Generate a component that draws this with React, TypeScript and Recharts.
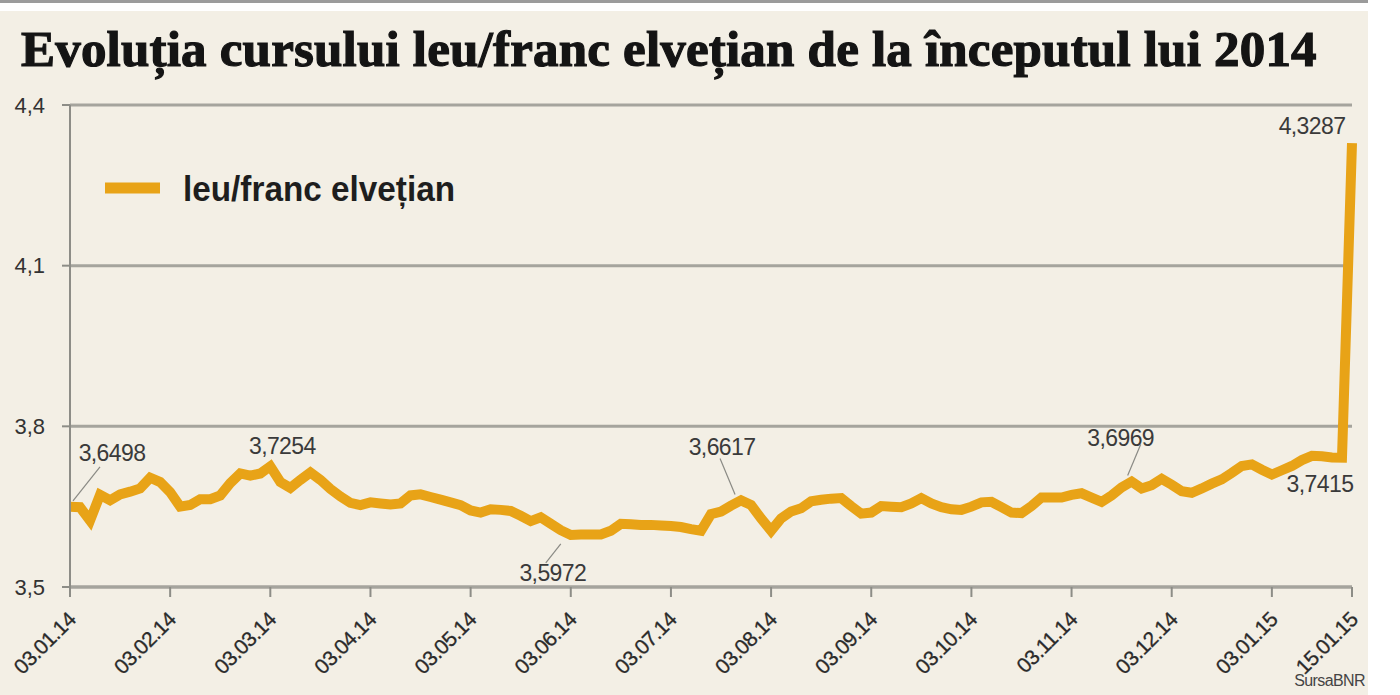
import { CartesianGrid, Line, LineChart, XAxis, YAxis } from "recharts";

const BEIGE = "#f3efe5";
const GOLD = "#e8a317";
const GRID = "#a5a49d";
const SANS = "'Liberation Sans', Arial, sans-serif";

// sample days inside each month (only month starts are shown as ticks)
const DAYS = ["03", "06", "09", "12", "15", "18", "21", "24", "26", "28"];
const MONTHS = ["01", "02", "03", "04", "05", "06", "07", "08", "09", "10", "11", "12"];
const JAN15_DATES = [
  "03.01.15", "05.01.15", "07.01.15", "08.01.15", "09.01.15",
  "12.01.15", "13.01.15", "14.01.15", "15.01.15",
];

// leu / franc elvetian
const JAN14 = [3.6498, 3.649, 3.624, 3.672, 3.662, 3.673, 3.678, 3.684, 3.704, 3.696];
const FEB14 = [3.677, 3.65, 3.653, 3.664, 3.664, 3.671, 3.694, 3.712, 3.708, 3.712];
const MAR14 = [3.7254, 3.696, 3.685, 3.7, 3.714, 3.7, 3.683, 3.669, 3.657, 3.653];
const APR14 = [3.658, 3.656, 3.654, 3.656, 3.671, 3.673, 3.668, 3.663, 3.658, 3.653];
const MAY14 = [3.643, 3.639, 3.645, 3.644, 3.642, 3.633, 3.623, 3.63, 3.618, 3.606];
const JUN14 = [3.5972, 3.598, 3.598, 3.598, 3.605, 3.618, 3.617, 3.616, 3.616, 3.615];
const JUL14 = [3.614, 3.612, 3.608, 3.605, 3.636, 3.641, 3.652, 3.6617, 3.653, 3.628];
const AUG14 = [3.605, 3.628, 3.641, 3.647, 3.66, 3.663, 3.665, 3.666, 3.651, 3.637];
const SEP14 = [3.639, 3.651, 3.65, 3.649, 3.656, 3.666, 3.656, 3.649, 3.645, 3.644];
const OCT14 = [3.65, 3.658, 3.659, 3.649, 3.639, 3.638, 3.651, 3.667, 3.667, 3.667];
const NOV14 = [3.672, 3.675, 3.667, 3.659, 3.671, 3.686, 3.6969, 3.684, 3.69, 3.702];
const DEC14 = [3.691, 3.679, 3.676, 3.684, 3.693, 3.701, 3.713, 3.726, 3.729, 3.719];
const JAN15 = [3.71, 3.718, 3.726, 3.737, 3.745, 3.744, 3.742, 3.7415, 4.3287];

const YEAR_2014 = [JAN14, FEB14, MAR14, APR14, MAY14, JUN14, JUL14, AUG14, SEP14, OCT14, NOV14, DEC14];

const DATES = [
  ...MONTHS.flatMap((m) => DAYS.map((d) => `${d}.${m}.14`)),
  ...JAN15_DATES,
];
const VALUES = [...YEAR_2014.flat(), ...JAN15];

const data = DATES.map((date, i) => ({ date, value: VALUES[i] }));

const X_TICKS = [
  "03.01.14", "03.02.14", "03.03.14", "03.04.14", "03.05.14", "03.06.14", "03.07.14",
  "03.08.14", "03.09.14", "03.10.14", "03.11.14", "03.12.14", "03.01.15", "15.01.15",
];
const Y_TICKS = [3.5, 3.8, 4.1, 4.4];

// annotated points
const NOTE_DATES = ["03.01.14", "03.03.14", "03.06.14", "24.07.14", "21.11.14", "14.01.15", "15.01.15"];

// where each note's text sits relative to its point, and its leader line
const NOTE_POS: Record<string, { tx: number; ty: number; leader?: number[] }> = {
  "03.01.14": { tx: 42, ty: -54, leader: [3, -6, 30, -40] },
  "03.03.14": { tx: 12, ty: -20 },
  "03.06.14": { tx: -18, ty: 38, leader: [-10, 9, -25, 28] },
  "24.07.14": { tx: -19, ty: -53, leader: [-6, -6, -21, -42] },
  "21.11.14": { tx: -11, ty: -44, leader: [-4, -6, 9, -37] },
  "14.01.15": { tx: -22, ty: 26 },
  "15.01.15": { tx: -40, ty: -17 },
};

const fmt = (v: number, digits: number) => v.toFixed(digits).replace(".", ",");

const renderNote = (props: any) => {
  const { x, y, value } = props;
  let index = props.index;
  if (index == null) index = VALUES.indexOf(value);
  const date = DATES[index];
  if (!NOTE_DATES.includes(date)) return null;
  const pos = NOTE_POS[date];
  const l = pos.leader;
  return (
    <g key={`note-${date}`}>
      {l && (
        <line
          x1={x + l[0]}
          y1={y + l[1]}
          x2={x + l[2]}
          y2={y + l[3]}
          stroke="#8a8a84"
          strokeWidth={1.2}
        />
      )}
      <text
        x={x + pos.tx}
        y={y + pos.ty}
        textAnchor="middle"
        dominantBaseline="central"
        fontFamily={SANS}
        fontSize={23}
        letterSpacing={-0.6}
        fill="#3a3a3a"
      >
        {fmt(value, 4)}
      </text>
    </g>
  );
};

const DateTick = ({ x, y, payload }: any) => (
  <g transform={`translate(${x + 7},${y + 24})`}>
    <text
      transform="rotate(-45)"
      textAnchor="end"
      fontFamily={SANS}
      fontSize={21}
      letterSpacing={-0.6}
      fill="#2a2a2a"
      stroke="#2a2a2a"
      strokeWidth={0.3}
    >
      {payload.value}
    </text>
  </g>
);

export default function App() {
  return (
    <div
      style={{
        position: "absolute",
        left: 0,
        top: 0,
        width: 1400,
        height: 695,
        background: "#fff",
        overflow: "hidden",
      }}
    >
      <div style={{ position: "absolute", left: 0, top: 0, width: 1368, height: 3, background: "#9b9b9b" }} />
      <div style={{ position: "absolute", left: 0, top: 11, width: 1368, height: 684, background: BEIGE }} />

      <div
        style={{
          position: "absolute",
          left: 21,
          top: 20,
          fontFamily: "'Liberation Serif', 'Times New Roman', serif",
          fontWeight: "bold",
          fontSize: 51,
          lineHeight: "58px",
          letterSpacing: 0.2,
          whiteSpace: "nowrap",
          color: "#141414",
          WebkitTextStroke: "1.2px #141414",
        }}
      >
        Evoluția cursului leu/franc elvețian de la începutul lui 2014
      </div>

      <svg style={{ position: "absolute", left: 0, top: 150 }} width={500} height={80}>
        <line x1={105} y1={38} x2={160} y2={38} stroke={GOLD} strokeWidth={11} />
        <text
          x={183}
          y={38}
          dominantBaseline="central"
          fontFamily={SANS}
          fontWeight="bold"
          fontSize={35}
          textLength={272}
          lengthAdjust="spacingAndGlyphs"
          fill="#1e1e1e"
        >
          leu/franc elvețian
        </text>
      </svg>

      <div style={{ position: "absolute", left: 0, top: 0 }}>
        <LineChart
          width={1400}
          height={695}
          data={data}
          margin={{ top: 105, right: 48, bottom: 8, left: 8 }}
        >
          <CartesianGrid horizontal vertical={false} stroke={GRID} strokeWidth={3} />
          <XAxis
            dataKey="date"
            ticks={X_TICKS}
            interval={0}
            padding={{ left: 0, right: 0 }}
            height={100}
            tickSize={10}
            tickMargin={0}
            axisLine={{ stroke: GRID, strokeWidth: 3 }}
            tickLine={{ stroke: "#8d8d87", strokeWidth: 2 }}
            tick={<DateTick />}
          />
          <YAxis
            type="number"
            domain={[3.5, 4.4]}
            ticks={Y_TICKS}
            width={62}
            tickSize={8}
            tickMargin={17}
            axisLine={{ stroke: "#8d8d87", strokeWidth: 2 }}
            tickLine={{ stroke: "#8d8d87", strokeWidth: 2 }}
            tick={{ fill: "#333", fontSize: 22, fontFamily: SANS }}
            tickFormatter={(v: number) => fmt(v, 1)}
          />
          <Line
            type="linear"
            dataKey="value"
            stroke={GOLD}
            strokeWidth={10}
            strokeLinejoin="miter"
            dot={false}
            activeDot={false}
            isAnimationActive={false}
            label={renderNote}
          />
        </LineChart>
      </div>

      <div
        style={{
          position: "absolute",
          right: 35,
          top: 672,
          fontFamily: SANS,
          fontSize: 16,
          letterSpacing: -0.6,
          color: "#444",
        }}
      >
        SursaBNR
      </div>
    </div>
  );
}
